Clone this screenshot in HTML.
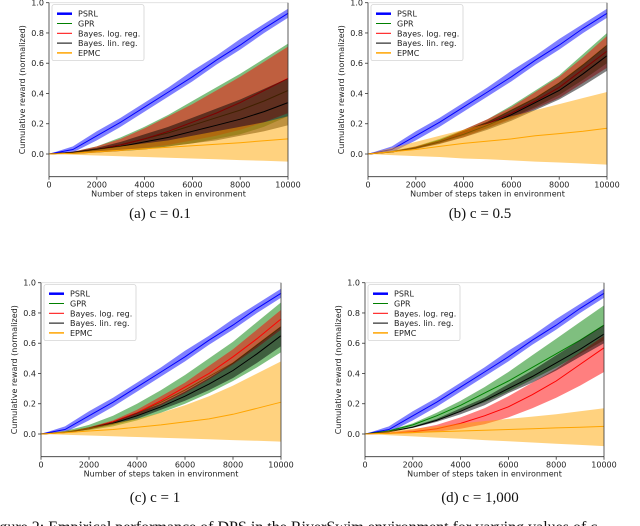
<!DOCTYPE html>
<html><head><meta charset="utf-8"><style>
html,body{margin:0;padding:0;background:#fff;width:640px;height:526px;overflow:hidden}
svg{display:block}
</style></head><body>
<svg id="fig" width="640" height="526" xmlns="http://www.w3.org/2000/svg" font-family="'DejaVu Sans','Liberation Sans',sans-serif"></svg>
<script>
const steps=[0,1000,2000,3000,4000,5000,6000,7000,8000,9000,10000];
const xTicks=[0,2000,4000,6000,8000,10000];
const yTicks=[0.0,0.2,0.4,0.6,0.8,1.0];
const seriesNames=["PSRL","GPR","Bayes. log. reg.","Bayes. lin. reg.","EPMC"];
const captions=["(a) c = 0.1","(b) c = 0.5","(c) c = 1","(d) c = 1,000"];
// PSRL (same in every panel)
const psrlMean=[0,0.03,0.12,0.21,0.31,0.41,0.51,0.62,0.72,0.83,0.93];
const psrlUp=[0,0.05,0.15,0.24,0.34,0.44,0.55,0.65,0.76,0.86,0.96];
const psrlLo=[0,0.01,0.09,0.18,0.28,0.38,0.48,0.59,0.69,0.80,0.90];
// panel a
const aGprMean=[0,0.01,0.03,0.06,0.10,0.14,0.19,0.24,0.29,0.35,0.42];
const aGprUp=[0,0.015,0.05,0.11,0.18,0.26,0.35,0.44,0.53,0.63,0.73];
const aGprLo=[0,0,0.01,0.02,0.03,0.05,0.07,0.10,0.13,0.18,0.25];
const aLogMean=[0,0.01,0.03,0.06,0.10,0.15,0.21,0.27,0.34,0.42,0.50];
const aLogUp=[0,0.015,0.05,0.10,0.17,0.25,0.33,0.42,0.51,0.61,0.71];
const aLogLo=[0,0,0.01,0.02,0.04,0.06,0.09,0.12,0.16,0.21,0.27];
const aLinMean=[0,0.01,0.03,0.05,0.08,0.11,0.15,0.19,0.23,0.28,0.34];
const aLinUp=[0,0.015,0.04,0.08,0.13,0.18,0.24,0.30,0.36,0.43,0.50];
const aLinLo=[0,0,0.01,0.02,0.03,0.05,0.07,0.09,0.12,0.15,0.19];
const aEpMean=[0,0.005,0.015,0.025,0.035,0.045,0.055,0.065,0.075,0.088,0.10];
const aEpUp=[0,0.01,0.03,0.05,0.07,0.09,0.12,0.15,0.18,0.21,0.25];
const aEpLo=[0,-0.005,-0.01,-0.015,-0.02,-0.025,-0.03,-0.035,-0.04,-0.045,-0.05];
// panel b
const bGprMean=[0,0.015,0.045,0.09,0.15,0.21,0.29,0.37,0.47,0.59,0.72];
const bGprUp=[0,0.02,0.05,0.10,0.16,0.23,0.32,0.42,0.52,0.66,0.80];
const bGprLo=[0,0.01,0.035,0.07,0.12,0.17,0.24,0.31,0.39,0.49,0.60];
const bLogMean=[0,0.014,0.04,0.08,0.14,0.20,0.27,0.35,0.44,0.56,0.68];
const bLogUp=[0,0.016,0.05,0.09,0.16,0.23,0.31,0.41,0.51,0.64,0.78];
const bLogLo=[0,0.011,0.034,0.07,0.11,0.17,0.23,0.30,0.37,0.47,0.57];
const bLinMean=[0,0.013,0.04,0.08,0.13,0.19,0.26,0.34,0.42,0.53,0.65];
const bLinUp=[0,0.015,0.045,0.09,0.15,0.21,0.29,0.37,0.47,0.59,0.72];
const bLinLo=[0,0.011,0.033,0.066,0.11,0.16,0.22,0.29,0.36,0.45,0.55];
const bEpMean=[0,0.015,0.03,0.05,0.07,0.085,0.10,0.12,0.135,0.15,0.17];
const bEpUp=[0,0.04,0.08,0.12,0.16,0.20,0.25,0.29,0.33,0.37,0.41];
const bEpLo=[0,-0.007,-0.014,-0.02,-0.03,-0.035,-0.042,-0.05,-0.056,-0.063,-0.07];
// panel c
const cGprMean=[0,0.012,0.04,0.08,0.14,0.21,0.29,0.38,0.47,0.59,0.71];
const cGprUp=[0,0.02,0.06,0.12,0.20,0.29,0.39,0.50,0.61,0.74,0.87];
const cGprLo=[0,0.008,0.025,0.05,0.09,0.14,0.20,0.27,0.35,0.44,0.54];
const cLogMean=[0,0.01,0.035,0.08,0.14,0.22,0.31,0.40,0.51,0.63,0.76];
const cLogUp=[0,0.012,0.045,0.09,0.16,0.25,0.34,0.45,0.56,0.69,0.82];
const cLogLo=[0,0.008,0.03,0.07,0.12,0.19,0.27,0.36,0.46,0.57,0.69];
const cLinMean=[0,0.01,0.035,0.07,0.12,0.18,0.25,0.33,0.42,0.53,0.65];
const cLinUp=[0,0.012,0.04,0.08,0.14,0.20,0.28,0.37,0.47,0.59,0.71];
const cLinLo=[0,0.008,0.03,0.06,0.10,0.16,0.22,0.29,0.37,0.47,0.58];
const cEpMean=[0,0.008,0.02,0.03,0.045,0.06,0.08,0.10,0.13,0.17,0.21];
const cEpUp=[0,0.02,0.04,0.07,0.10,0.14,0.19,0.25,0.32,0.40,0.48];
const cEpLo=[0,-0.005,-0.01,-0.015,-0.02,-0.025,-0.03,-0.035,-0.04,-0.045,-0.05];
// panel d
const dGprMean=[0,0.02,0.06,0.12,0.19,0.27,0.35,0.44,0.53,0.62,0.72];
const dGprUp=[0,0.025,0.07,0.14,0.22,0.31,0.41,0.52,0.63,0.74,0.85];
const dGprLo=[0,0.015,0.045,0.09,0.15,0.21,0.28,0.36,0.44,0.53,0.62];
const dLogMean=[0,0.005,0.015,0.035,0.07,0.12,0.18,0.26,0.35,0.46,0.57];
const dLogUp=[0,0.01,0.03,0.06,0.11,0.17,0.25,0.34,0.43,0.54,0.65];
const dLogLo=[0,0,0.005,0.015,0.035,0.065,0.11,0.17,0.24,0.32,0.41];
const dLinMean=[0,0.015,0.045,0.09,0.15,0.22,0.30,0.38,0.47,0.56,0.66];
const dLinUp=[0,0.018,0.05,0.10,0.17,0.24,0.33,0.42,0.52,0.62,0.72];
const dLinLo=[0,0.012,0.04,0.08,0.13,0.19,0.27,0.34,0.42,0.51,0.60];
const dEpMean=[0,0.005,0.01,0.015,0.02,0.025,0.03,0.035,0.04,0.045,0.05];
const dEpUp=[0,0.02,0.035,0.05,0.07,0.085,0.10,0.115,0.13,0.15,0.17];
const dEpLo=[0,-0.008,-0.016,-0.024,-0.032,-0.04,-0.048,-0.056,-0.064,-0.072,-0.08];

const colors=["#0000ff","#008000","#ff0000","#000000","#ffa500"];
const panelData=[
 [[psrlMean,psrlLo,psrlUp],[aGprMean,aGprLo,aGprUp],[aLogMean,aLogLo,aLogUp],[aLinMean,aLinLo,aLinUp],[aEpMean,aEpLo,aEpUp]],
 [[psrlMean,psrlLo,psrlUp],[bGprMean,bGprLo,bGprUp],[bLogMean,bLogLo,bLogUp],[bLinMean,bLinLo,bLinUp],[bEpMean,bEpLo,bEpUp]],
 [[psrlMean,psrlLo,psrlUp],[cGprMean,cGprLo,cGprUp],[cLogMean,cLogLo,cLogUp],[cLinMean,cLinLo,cLinUp],[cEpMean,cEpLo,cEpUp]],
 [[psrlMean,psrlLo,psrlUp],[dGprMean,dGprLo,dGprUp],[dLogMean,dLogLo,dLogUp],[dLinMean,dLinLo,dLinUp],[dEpMean,dEpLo,dEpUp]]
];
const layout=[{L:49,R:288,Y0:154,cx:160,cy:218},{L:368,R:607,Y0:154,cx:480,cy:218},{L:41,R:281,Y0:434,cx:155,cy:502},{L:365,R:604,Y0:434,cx:480,cy:502}];
const NS="http://www.w3.org/2000/svg";
const svg=document.getElementById('fig');
function mk(tag,attrs,parent){const e=document.createElementNS(NS,tag);for(const k in attrs)e.setAttribute(k,attrs[k]);(parent||svg).appendChild(e);return e;}
const YMIN=-0.15,YMAX=1.0,XMAX=10000,PXU=151.3;
layout.forEach((p,pi)=>{
  const g=mk('g',{});
  
  
  const xs=v=>p.L+(v/XMAX)*(p.R-p.L);
  const ys=v=>p.Y0-v*PXU;
  const top=ys(YMAX),bot=ys(YMIN);
  panelData[pi].forEach((s,si)=>{
    const [m,lo,up]=s;
    let d='M'+steps.map((x,i)=>xs(x).toFixed(1)+','+ys(up[i]).toFixed(1)).join('L');
    for(let i=steps.length-1;i>=0;i--)d+='L'+xs(steps[i]).toFixed(1)+','+ys(lo[i]).toFixed(1);
    const band=mk('path',{d:d+'Z',fill:colors[si],'fill-opacity':0.5,stroke:'none'},g);
    
    
    const ln=mk('polyline',{points:steps.map((x,i)=>xs(x).toFixed(1)+','+ys(m[i]).toFixed(1)).join(' '),fill:'none',stroke:colors[si],'stroke-width':1},g);
    
    
  });
  mk('line',{x1:p.L,y1:top,x2:p.R,y2:top,stroke:'#ddd','stroke-width':0.8},g);
  mk('line',{x1:p.R,y1:top,x2:p.R,y2:bot,stroke:'#333','stroke-width':0.8},g);
  mk('line',{x1:p.L,y1:top,x2:p.L,y2:bot,stroke:'#333','stroke-width':0.8},g);
  mk('line',{x1:p.L,y1:bot,x2:p.R,y2:bot,stroke:'#333','stroke-width':0.8},g);
  yTicks.forEach(v=>{
    mk('line',{x1:p.L-3,y1:ys(v),x2:p.L,y2:ys(v),stroke:'#333','stroke-width':0.8},g);
    const t=mk('text',{x:p.L-5,y:ys(v)+3,'font-size':8,'text-anchor':'end',fill:'#222'},g);t.textContent=v.toFixed(1);
    
  });
  xTicks.forEach(v=>{
    mk('line',{x1:xs(v),y1:bot,x2:xs(v),y2:bot+3,stroke:'#333','stroke-width':0.8},g);
    const t=mk('text',{x:xs(v),y:bot+11,'font-size':8,'text-anchor':'middle',fill:'#222'},g);t.textContent=v;
    
  });
  const xl=mk('text',{x:(p.L+p.R)/2,y:bot+20,'font-size':8,'text-anchor':'middle',fill:'#222'},g);xl.textContent='Number of steps taken in environment';
  
  const yx=p.L-24,yy=(top+bot)/2;
  const yl=mk('text',{x:yx,y:yy,'font-size':8,'text-anchor':'middle',fill:'#222',transform:`rotate(-90 ${yx} ${yy})`},g);yl.textContent='Cumulative reward (normalized)';
  
  const lg=mk('g',{},g);
  
  mk('rect',{x:p.L+3,y:top+2,width:92,height:56,fill:'#fff','fill-opacity':0.85,stroke:'#ccc','stroke-width':0.7,rx:2},lg);
  seriesNames.forEach((n,i)=>{
    const yy2=top+11+i*9.8;
    mk('line',{x1:p.L+8,y1:yy2,x2:p.L+23,y2:yy2,stroke:colors[i],'stroke-width':i==0?2.5:(i==4?1.5:1)},lg);
    const t=mk('text',{x:p.L+29,y:yy2+3,'font-size':8,fill:'#222'},lg);t.textContent=n;
    
  });
  const c=mk('text',{x:p.cx,y:p.cy,'font-size':15,'text-anchor':'middle',fill:'#111','font-family':"'Liberation Serif',serif"});c.textContent=captions[pi];
  
});
const fc=mk('text',{x:-14,y:532,'font-size':16,fill:'#111','font-family':"'Liberation Serif',serif"});
fc.textContent='Figure 2: Empirical performance of DPS in the RiverSwim environment for varying values of c';

</script>
</body></html>
